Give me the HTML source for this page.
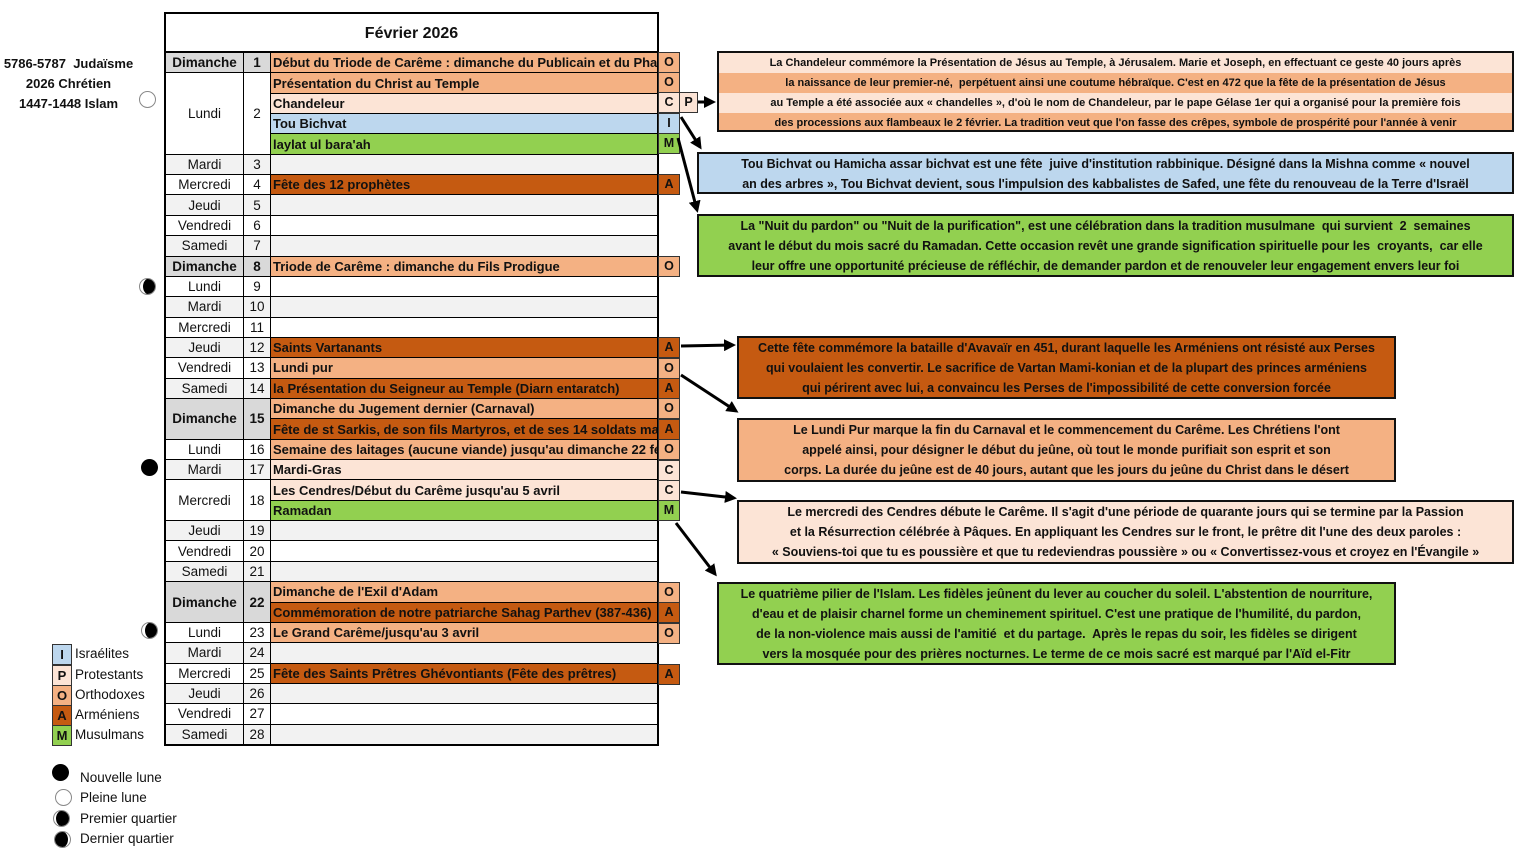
<!DOCTYPE html>
<html><head><meta charset="utf-8">
<style>
*{box-sizing:border-box;margin:0;padding:0}
body{width:1533px;height:856px;background:#fff;position:relative;overflow:hidden;font-family:"Liberation Sans",sans-serif;color:#111}
.abs{position:absolute}
#title{position:absolute;left:164px;top:12px;width:495px;height:41px;border:2px solid #000;border-bottom:none;font-weight:bold;font-size:16px;text-align:center;line-height:40px}
#grid{position:absolute;left:164px;top:51px;width:495px;height:695px;border:2px solid #000;background:#000;display:grid;grid-template-columns:77px 26px 1fr;grid-template-rows:repeat(34,1fr);gap:1px}
#grid div{display:flex;align-items:center;font-size:13.5px;overflow:hidden;white-space:nowrap}
.d{justify-content:center}
.e{padding-left:2px;font-weight:bold;font-size:13px!important}
.w{background:#fff}.g{background:#f2f2f2}.h{background:#d9d9d9;font-weight:bold}
.O{background:#f4b183}.C{background:#fce4d6}.A{background:#c55a11}.I{background:#bdd7ee}.M{background:#92d050}
.L{position:absolute;left:658px;width:22px;height:21px;border:1px solid #333;font-weight:bold;font-size:12.5px;text-align:center;line-height:19px}
.box{position:absolute;border:2px solid #111;font-weight:bold;text-align:center;white-space:nowrap;overflow:hidden}
.box p{height:20px;line-height:20px}
.lg{position:absolute;left:52px;width:20px;height:21px;border:1px solid #333;font-weight:bold;font-size:13px;text-align:center;line-height:19px}
.lt{position:absolute;left:75px;font-size:13.5px}
.moon{position:absolute;width:17px;height:17px;border-radius:50%}
</style></head><body>

<div class="abs" style="left:0;top:54px;width:137px;text-align:center;font-weight:bold;font-size:13px;line-height:20px">5786-5787&nbsp; Judaïsme<br>2026 Chrétien<br>1447-1448 Islam</div>

<div id="title">Février 2026</div>
<div id="grid">
<div class="d h" style="grid-row:1">Dimanche</div><div class="d h" style="grid-row:1">1</div><div class="e O" style="grid-row:1">Début du Triode de Carême : dimanche du Publicain et du Pharisien</div>
<div class="d w" style="grid-row:2/6">Lundi</div><div class="d w" style="grid-row:2/6">2</div>
<div class="e O" style="grid-row:2">Présentation du Christ au Temple</div>
<div class="e C" style="grid-row:3">Chandeleur</div>
<div class="e I" style="grid-row:4">Tou Bichvat</div>
<div class="e M" style="grid-row:5">laylat ul bara'ah</div>
<div class="d g" style="grid-row:6">Mardi</div><div class="d g" style="grid-row:6">3</div><div class="g" style="grid-row:6"></div>
<div class="d w" style="grid-row:7">Mercredi</div><div class="d w" style="grid-row:7">4</div><div class="e A" style="grid-row:7">Fête des 12 prophètes</div>
<div class="d g" style="grid-row:8">Jeudi</div><div class="d g" style="grid-row:8">5</div><div class="g" style="grid-row:8"></div>
<div class="d w" style="grid-row:9">Vendredi</div><div class="d w" style="grid-row:9">6</div><div class="w" style="grid-row:9"></div>
<div class="d g" style="grid-row:10">Samedi</div><div class="d g" style="grid-row:10">7</div><div class="g" style="grid-row:10"></div>
<div class="d h" style="grid-row:11">Dimanche</div><div class="d h" style="grid-row:11">8</div><div class="e O" style="grid-row:11">Triode de Carême : dimanche du Fils Prodigue</div>
<div class="d w" style="grid-row:12">Lundi</div><div class="d w" style="grid-row:12">9</div><div class="w" style="grid-row:12"></div>
<div class="d g" style="grid-row:13">Mardi</div><div class="d g" style="grid-row:13">10</div><div class="g" style="grid-row:13"></div>
<div class="d w" style="grid-row:14">Mercredi</div><div class="d w" style="grid-row:14">11</div><div class="w" style="grid-row:14"></div>
<div class="d g" style="grid-row:15">Jeudi</div><div class="d g" style="grid-row:15">12</div><div class="e A" style="grid-row:15">Saints Vartanants</div>
<div class="d w" style="grid-row:16">Vendredi</div><div class="d w" style="grid-row:16">13</div><div class="e O" style="grid-row:16">Lundi pur</div>
<div class="d g" style="grid-row:17">Samedi</div><div class="d g" style="grid-row:17">14</div><div class="e A" style="grid-row:17">la Présentation du Seigneur au Temple (Diarn entaratch)</div>
<div class="d h" style="grid-row:18/20">Dimanche</div><div class="d h" style="grid-row:18/20">15</div>
<div class="e O" style="grid-row:18">Dimanche du Jugement dernier (Carnaval)</div>
<div class="e A" style="grid-row:19">Fête de st Sarkis, de son fils Martyros, et de ses 14 soldats martyrs</div>
<div class="d w" style="grid-row:20">Lundi</div><div class="d w" style="grid-row:20">16</div><div class="e O" style="grid-row:20">Semaine des laitages (aucune viande) jusqu'au dimanche 22 février</div>
<div class="d g" style="grid-row:21">Mardi</div><div class="d g" style="grid-row:21">17</div><div class="e C" style="grid-row:21">Mardi-Gras</div>
<div class="d w" style="grid-row:22/24">Mercredi</div><div class="d w" style="grid-row:22/24">18</div>
<div class="e C" style="grid-row:22">Les Cendres/Début du Carême jusqu'au 5 avril</div>
<div class="e M" style="grid-row:23">Ramadan</div>
<div class="d g" style="grid-row:24">Jeudi</div><div class="d g" style="grid-row:24">19</div><div class="g" style="grid-row:24"></div>
<div class="d w" style="grid-row:25">Vendredi</div><div class="d w" style="grid-row:25">20</div><div class="w" style="grid-row:25"></div>
<div class="d g" style="grid-row:26">Samedi</div><div class="d g" style="grid-row:26">21</div><div class="g" style="grid-row:26"></div>
<div class="d h" style="grid-row:27/29">Dimanche</div><div class="d h" style="grid-row:27/29">22</div>
<div class="e O" style="grid-row:27">Dimanche de l'Exil d'Adam</div>
<div class="e A" style="grid-row:28">Commémoration de notre patriarche Sahag Parthev (387-436)</div>
<div class="d w" style="grid-row:29">Lundi</div><div class="d w" style="grid-row:29">23</div><div class="e O" style="grid-row:29">Le Grand Carême/jusqu'au 3 avril</div>
<div class="d g" style="grid-row:30">Mardi</div><div class="d g" style="grid-row:30">24</div><div class="g" style="grid-row:30"></div>
<div class="d w" style="grid-row:31">Mercredi</div><div class="d w" style="grid-row:31">25</div><div class="e A" style="grid-row:31">Fête des Saints Prêtres Ghévontiants (Fête des prêtres)</div>
<div class="d g" style="grid-row:32">Jeudi</div><div class="d g" style="grid-row:32">26</div><div class="g" style="grid-row:32"></div>
<div class="d w" style="grid-row:33">Vendredi</div><div class="d w" style="grid-row:33">27</div><div class="w" style="grid-row:33"></div>
<div class="d g" style="grid-row:34">Samedi</div><div class="d g" style="grid-row:34">28</div><div class="g" style="grid-row:34"></div>
</div>

<div class="L O" style="top:52px">O</div>
<div class="L O" style="top:72px">O</div>
<div class="L C" style="top:92px">C</div>
<div class="L C" style="top:92px;left:679px;width:19px">P</div>
<div class="L I" style="top:113px">I</div>
<div class="L M" style="top:133px">M</div>
<div class="L A" style="top:174px">A</div>
<div class="L O" style="top:256px">O</div>
<div class="L A" style="top:337px">A</div>
<div class="L O" style="top:358px">O</div>
<div class="L A" style="top:378px">A</div>
<div class="L O" style="top:398px">O</div>
<div class="L A" style="top:419px">A</div>
<div class="L O" style="top:439px">O</div>
<div class="L C" style="top:460px">C</div>
<div class="L C" style="top:480px">C</div>
<div class="L M" style="top:500px">M</div>
<div class="L O" style="top:582px">O</div>
<div class="L A" style="top:602px">A</div>
<div class="L O" style="top:623px">O</div>
<div class="L A" style="top:664px">A</div>

<div class="box" style="left:717px;top:51px;width:797px;height:81px;font-size:11px">
<p class="C">La Chandeleur commémore la Présentation de Jésus au Temple, à Jérusalem. Marie et Joseph, en effectuant ce geste 40 jours après</p>
<p class="O">la naissance de leur premier-né,&nbsp; perpétuent ainsi une coutume hébraïque. C'est en 472 que la fête de la présentation de Jésus</p>
<p class="C">au Temple a été associée aux « chandelles », d'où le nom de Chandeleur, par le pape Gélase 1er qui a organisé pour la première fois</p>
<p class="O">des processions aux flambeaux le 2 février. La tradition veut que l'on fasse des crêpes, symbole de prospérité pour l'année à venir</p>
</div>
<div class="box I" style="left:697px;top:152px;width:817px;height:42px;font-size:12.5px">
<p>Tou Bichvat ou Hamicha assar bichvat est une fête&nbsp; juive d'institution rabbinique. Désigné dans la Mishna comme « nouvel</p>
<p>an des arbres », Tou Bichvat devient, sous l'impulsion des kabbalistes de Safed, une fête du renouveau de la Terre d'Israël</p>
</div>
<div class="box M" style="left:697px;top:214px;width:817px;height:63px;font-size:12.5px">
<p>La "Nuit du pardon" ou "Nuit de la purification", est une célébration dans la tradition musulmane&nbsp; qui survient&nbsp; 2&nbsp; semaines</p>
<p>avant le début du mois sacré du Ramadan. Cette occasion revêt une grande signification spirituelle pour les&nbsp; croyants,&nbsp; car elle</p>
<p>leur offre une opportunité précieuse de réfléchir, de demander pardon et de renouveler leur engagement envers leur foi</p>
</div>
<div class="box A" style="left:737px;top:336px;width:659px;height:63px;font-size:12.5px">
<p>Cette fête commémore la bataille d'Avavaïr en 451, durant laquelle les Arméniens ont résisté aux Perses</p>
<p>qui voulaient les convertir. Le sacrifice de Vartan Mami-konian et de la plupart des princes arméniens</p>
<p>qui périrent avec lui, a convaincu les Perses de l'impossibilité de cette conversion forcée</p>
</div>
<div class="box O" style="left:737px;top:418px;width:659px;height:64px;font-size:12.5px">
<p>Le Lundi Pur marque la fin du Carnaval et le commencement du Carême. Les Chrétiens l'ont</p>
<p>appelé ainsi, pour désigner le début du jeûne, où tout le monde purifiait son esprit et son</p>
<p>corps. La durée du jeûne est de 40 jours, autant que les jours du jeûne du Christ dans le désert</p>
</div>
<div class="box C" style="left:737px;top:500px;width:777px;height:64px;font-size:12.5px">
<p>Le mercredi des Cendres débute le Carême. Il s'agit d'une période de quarante jours qui se termine par la Passion</p>
<p>et la Résurrection célébrée à Pâques. En appliquant les Cendres sur le front, le prêtre dit l'une des deux paroles :</p>
<p>« Souviens-toi que tu es poussière et que tu redeviendras poussière » ou « Convertissez-vous et croyez en l'Évangile »</p>
</div>
<div class="box M" style="left:717px;top:582px;width:679px;height:83px;font-size:12.5px">
<p>Le quatrième pilier de l'Islam. Les fidèles jeûnent du lever au coucher du soleil. L'abstention de nourriture,</p>
<p>d'eau et de plaisir charnel forme un cheminement spirituel. C'est une pratique de l'humilité, du pardon,</p>
<p>de la non-violence mais aussi de l'amitié&nbsp; et du partage.&nbsp; Après le repas du soir, les fidèles se dirigent</p>
<p>vers la mosquée pour des prières nocturnes. Le terme de ce mois sacré est marqué par l'Aïd el-Fitr</p>
</div>

<svg class="abs" style="left:0;top:0" width="1533" height="856">
<defs><marker id="a" markerWidth="4" markerHeight="4" refX="3" refY="2" orient="auto"><path d="M0,0 L4,2 L0,4 z" fill="#000"/></marker></defs>
<g stroke="#000" stroke-width="3" fill="none" marker-end="url(#a)">
<line x1="698" y1="102" x2="713" y2="102"/>
<line x1="681" y1="117" x2="700" y2="147"/>
<line x1="678" y1="138" x2="697" y2="210"/>
<line x1="681" y1="346" x2="733" y2="345"/>
<line x1="681" y1="375" x2="736" y2="411"/>
<line x1="681" y1="492" x2="734" y2="498"/>
<line x1="676" y1="523" x2="715" y2="574"/>
</g>
</svg>

<div class="moon" style="left:139px;top:91px;border:1px solid #888;background:#fff"></div>
<div class="moon" style="left:139px;top:278px;border:1px solid #888;background:#fff;overflow:hidden"><div style="position:absolute;left:3px;top:-1px;width:14px;height:17px;border-radius:50%;background:#000"></div></div>
<div class="moon" style="left:141px;top:459px;background:#000"></div>
<div class="moon" style="left:141px;top:622px;border:1px solid #888;background:#fff;overflow:hidden"><div style="position:absolute;left:3px;top:-1px;width:14px;height:17px;border-radius:50%;background:#000"></div></div>

<div class="lg I" style="top:644px">I</div><div class="lt" style="top:646px">Israélites</div>
<div class="lg C" style="top:665px">P</div><div class="lt" style="top:667px">Protestants</div>
<div class="lg O" style="top:685px">O</div><div class="lt" style="top:687px">Orthodoxes</div>
<div class="lg A" style="top:705px">A</div><div class="lt" style="top:707px">Arméniens</div>
<div class="lg M" style="top:725px">M</div><div class="lt" style="top:727px">Musulmans</div>

<div class="moon" style="left:52px;top:764px;background:#000"></div>
<div class="moon" style="left:55px;top:789px;border:1px solid #888;background:#fff"></div>
<div class="moon" style="left:53px;top:810px;border:1px solid #888;background:#fff;overflow:hidden"><div style="position:absolute;left:2px;top:-1px;width:15px;height:17px;border-radius:50%;background:#000"></div></div>
<div class="moon" style="left:54px;top:831px;border:1px solid #888;background:#fff;overflow:hidden"><div style="position:absolute;left:-1px;top:-1px;width:14px;height:17px;border-radius:50%;background:#000"></div></div>
<div class="lt" style="left:80px;top:770px">Nouvelle lune</div>
<div class="lt" style="left:80px;top:790px">Pleine lune</div>
<div class="lt" style="left:80px;top:811px">Premier quartier</div>
<div class="lt" style="left:80px;top:831px">Dernier quartier</div>
</body></html>
